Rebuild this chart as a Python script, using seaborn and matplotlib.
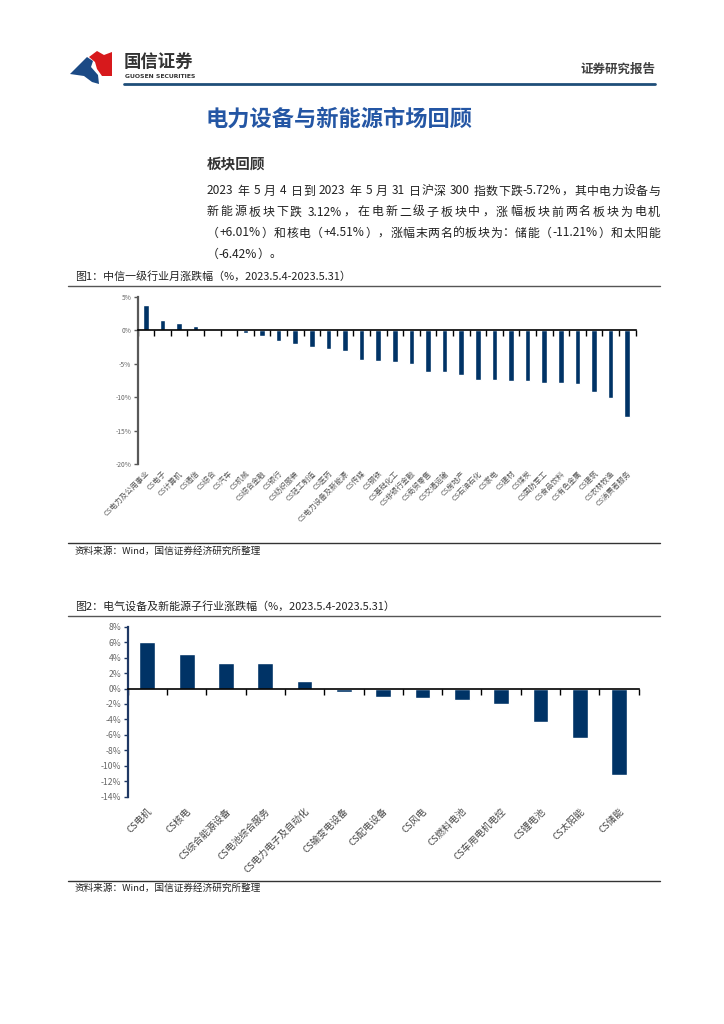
import re
import matplotlib
matplotlib.use("Agg")
import matplotlib.pyplot as plt
import seaborn as sns
import pandas as pd
import numpy as np
from matplotlib.lines import Line2D
from matplotlib.patches import Polygon
from matplotlib.ticker import FuncFormatter

# ---------------- data ----------------
industries = ["CS电力及公用事业", "CS电子", "CS计算机", "CS通信", "CS综合", "CS汽车", "CS机械",
              "CS综合金融", "CS银行", "CS纺织服装", "CS轻工制造", "CS医药", "CS电力设备及新能源",
              "CS传媒", "CS钢铁", "CS基础化工", "CS非银行金融", "CS商贸零售", "CS交通运输",
              "CS房地产", "CS石油石化", "CS家电", "CS建材", "CS煤炭", "CS国防军工", "CS食品饮料",
              "CS有色金属", "CS建筑", "CS农林牧渔", "CS消费者服务"]
industry_returns = [3.8, 1.5, 1.0, 0.6, 0.02, -0.05, -0.4, -0.9, -1.6, -2.1, -2.5, -2.8, -3.12,
                    -4.4, -4.6, -4.75, -5.05, -6.2, -6.2, -6.65, -7.4, -7.45, -7.55, -7.6,
                    -7.85, -7.85, -8.0, -9.25, -10.15, -13.0]
y1_ticks = [5, 0, -5, -10, -15, -20]

sub_sectors = ["CS电机", "CS核电", "CS综合能源设备", "CS电池综合服务", "CS电力电子及自动化",
               "CS输变电设备", "CS配电设备", "CS风电", "CS燃料电池", "CS车用电机电控",
               "CS锂电池", "CS太阳能", "CS储能"]
sub_returns = [6.01, 4.51, 3.33, 3.33, 0.96, -0.44, -1.1, -1.23, -1.53, -2.06, -4.34, -6.42, -11.21]
y2_ticks = [8, 6, 4, 2, 0, -2, -4, -6, -8, -10, -12, -14]

title = "电力设备与新能源市场回顾"
section = "板块回顾"
para_lines = [
    "2023 年 5 月 4 日到 2023 年 5 月 31 日沪深 300 指数下跌-5.72%，其中电力设备与",
    "新能源板块下跌 3.12%，在电新二级子板块中，涨幅板块前两名板块为电机",
    "（+6.01%）和核电（+4.51%），涨幅末两名的板块为：储能（-11.21%）和太阳能",
    "（-6.42%）。",
]
cap1 = "图1：中信一级行业月涨跌幅（%，2023.5.4-2023.5.31）"
cap2 = "图2：电气设备及新能源子行业涨跌幅（%，2023.5.4-2023.5.31）"
source = "资料来源：Wind，国信证券经济研究所整理"

# ---------------- style ----------------
sns.set_theme(style="white")
plt.rcParams["font.family"] = ["Noto Sans CJK SC", "DejaVu Sans"]
plt.rcParams["axes.unicode_minus"] = False

W, H = 724, 1024
fig = plt.figure(figsize=(W / 100, H / 100), dpi=100)
fig.patch.set_facecolor("white")


def fx(x):
    return x / W


def fy(y):
    return 1 - y / H


def hline(x0, x1, y, color, lw):
    fig.add_artist(Line2D([fx(x0), fx(x1)], [fy(y), fy(y)], color=color, lw=lw,
                          transform=fig.transFigure))


# ---------------- header ----------------
blue_logo = [(70, 74), (87, 57), (93, 61), (91, 67), (98, 75), (99, 84), (92, 82), (84, 76)]
red_logo = [(89, 57), (97, 51), (104, 55), (112, 52), (112, 76), (102, 76), (97, 69), (95, 62)]
fig.add_artist(Polygon([(fx(a), fy(b)) for a, b in blue_logo], closed=True,
                       facecolor="#1B4A85", edgecolor="none", transform=fig.transFigure))
fig.add_artist(Polygon([(fx(a), fy(b)) for a, b in red_logo], closed=True,
                       facecolor="#D7191C", edgecolor="none", transform=fig.transFigure))
fig.text(fx(124), fy(62), "国信证券", fontsize=12.5, fontweight="bold", color="#333333", va="center")
fig.text(fx(125), fy(76.5), "GUOSEN SECURITIES", fontsize=4.4, fontweight="bold",
         color="#333333", va="center", family=["DejaVu Sans"])
hline(124, 655, 84, "#1F4E79", 2.0)
fig.text(fx(655), fy(69), "证券研究报告", fontsize=9, fontweight="bold", color="#404040",
         ha="right", va="center")

fig.text(fx(206), fy(119), title, fontsize=16, fontweight="bold", color="#2456A4", va="center")
fig.text(fx(207), fy(163), section, fontsize=10.5, fontweight="bold", color="#333333", va="center")

# justified paragraph
renderer = fig.canvas.get_renderer()


def justify(text, x0, x1, y, size, justified=True):
    units = []
    space_before = []
    pending_space = False
    for tok in re.findall(r"[A-Za-z0-9.%+\-]+|\s+|.", text):
        if tok.isspace():
            pending_space = True
            continue
        units.append(tok)
        space_before.append(pending_space)
        pending_space = False
    arts = [fig.text(0, fy(y), u, fontsize=size, color="#222222", va="center") for u in units]
    widths = [a.get_window_extent(renderer).width for a in arts]
    sp = size * 100 / 72 * 0.3
    gaps = [sp if s else 0 for s in space_before[1:]]
    natural = sum(widths) + sum(gaps)
    extra = ((x1 - x0) - natural) / max(len(units) - 1, 1) if justified else 0
    x = x0
    for i, a in enumerate(arts):
        if i > 0:
            x += widths[i - 1] + gaps[i - 1] + extra
        a.set_x(fx(x))


para_y = [191, 212, 233, 254]
for i, line in enumerate(para_lines):
    justify(line, 207, 660, para_y[i], 8.6, justified=(i < 3))

# ---------------- figure captions / rules ----------------
fig.text(fx(75), fy(276), cap1, fontsize=7.9, color="#222222", va="center")
hline(68, 660, 286, "#555555", 1.0)
hline(68, 660, 543, "#333333", 1.0)
fig.text(fx(75), fy(551.5), source, fontsize=6.9, color="#222222", va="center")

fig.text(fx(75), fy(606), cap2, fontsize=7.9, color="#222222", va="center")
hline(68, 660, 616, "#555555", 1.0)
hline(68, 660, 881, "#333333", 1.0)
fig.text(fx(75), fy(888.5), source, fontsize=6.9, color="#222222", va="center")

bar_color = "#003366"
pct = FuncFormatter(lambda v, p: f"{v:g}%")


def style_chart(ax, cats, ylim, yticks, spine_color, ytick_size, xtick_size, label_pad, label_color):
    n = len(cats)
    ax.set_xlim(-0.5, n - 0.5)
    ax.set_ylim(*ylim)
    ax.set_xlabel("")
    ax.set_ylabel("")
    ax.set_facecolor("white")
    for s in ["top", "right"]:
        ax.spines[s].set_visible(False)
    ax.spines["left"].set_color(spine_color)
    ax.spines["left"].set_linewidth(1.6)
    ax.spines["bottom"].set_position(("data", 0))
    ax.spines["bottom"].set_color("black")
    ax.spines["bottom"].set_linewidth(1.2)
    ax.set_yticks(yticks)
    ax.yaxis.set_major_formatter(pct)
    ax.tick_params(axis="y", left=True, length=3, width=1, color=spine_color,
                   labelsize=ytick_size, labelcolor="#666666", pad=1.5, direction="out")
    ax.tick_params(axis="x", which="major", length=0, labelbottom=False)
    ax.set_xticks(np.arange(n + 1) - 0.5, minor=True)
    ax.tick_params(axis="x", which="minor", bottom=True, length=4, width=1, color="black",
                   direction="out")
    sec = ax.secondary_xaxis(0)
    sec.set_xticks(list(range(n)), cats, rotation=45, ha="right", rotation_mode="anchor",
                   fontsize=xtick_size, color=label_color)
    sec.tick_params(length=0, pad=label_pad)
    sec.spines["bottom"].set_visible(False)


# ---------------- chart 1 ----------------
ax1 = fig.add_axes([fx(137.5), fy(464), 498 / W, (464 - 296.7) / H])
df1 = pd.DataFrame({"industry": industries, "ret": industry_returns})
sns.barplot(data=df1, x="industry", y="ret", color=bar_color, saturation=1, width=0.33, ax=ax1)
style_chart(ax1, industries, (-20, 5), y1_ticks, "#595959", 4.8, 5.3, 4, "#555555")

# ---------------- chart 2 ----------------
ax2 = fig.add_axes([fx(127.7), fy(796.7), 511 / W, (796.7 - 626.7) / H])
df2 = pd.DataFrame({"sector": sub_sectors, "ret": sub_returns})
sns.barplot(data=df2, x="sector", y="ret", color=bar_color, saturation=1, width=0.4, ax=ax2)
style_chart(ax2, sub_sectors, (-14, 8), y2_ticks, "#1F3864", 6.2, 6.8, 7, "#444444")

fig.savefig("out.png", dpi=100, facecolor="white")
